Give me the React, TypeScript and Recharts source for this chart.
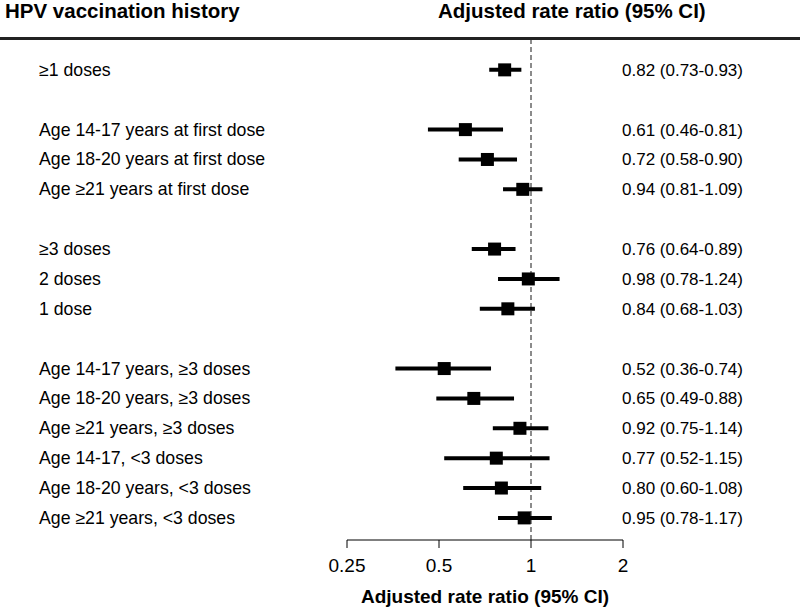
import { ScatterChart, Scatter, XAxis, YAxis, ErrorBar, ReferenceLine, Label } from 'recharts';

// row labels (top to bottom), blank rows separate the groups
const labels = [
  '≥1 doses',
  'Age 14-17 years at first dose',
  'Age 18-20 years at first dose',
  'Age ≥21 years at first dose',
  '≥3 doses',
  '2 doses',
  '1 dose',
  'Age 14-17 years, ≥3 doses',
  'Age 18-20 years, ≥3 doses',
  'Age ≥21 years, ≥3 doses',
  'Age 14-17, <3 doses',
  'Age 18-20 years, <3 doses',
  'Age ≥21 years, <3 doses',
];
const rows = [0, 2, 3, 4, 6, 7, 8, 10, 11, 12, 13, 14, 15];
const rr = [0.82, 0.61, 0.72, 0.94, 0.76, 0.98, 0.84, 0.52, 0.65, 0.92, 0.77, 0.8, 0.95];
const lower = [0.73, 0.46, 0.58, 0.81, 0.64, 0.78, 0.68, 0.36, 0.49, 0.75, 0.52, 0.6, 0.78];
const upper = [0.93, 0.81, 0.9, 1.09, 0.89, 1.24, 1.03, 0.74, 0.88, 1.14, 1.15, 1.08, 1.17];
const xTicks = [0.25, 0.5, 1, 2];

const FONT = 'Arial, "Liberation Sans", sans-serif';

const data = labels.map((name, i) => ({
  name,
  row: rows[i],
  rr: rr[i],
  err: [rr[i] - lower[i], upper[i] - rr[i]],
  ci: `${rr[i].toFixed(2)} (${lower[i].toFixed(2)}-${upper[i].toFixed(2)})`,
}));

const labelFor = (v: number) => data.find((d) => d.row === v);

// one tick draws both the row name (left) and the estimate text (right)
const RowTick = (props: any) => {
  const d = labelFor(props.payload.value);
  if (!d) return null;
  return (
    <g>
      <text x={39} y={props.y} dy={6} textAnchor="start" fontSize={17.7} fontFamily={FONT} fill="#000">
        {d.name}
      </text>
      <text x={622} y={props.y} dy={6} textAnchor="start" fontSize={17} fontFamily={FONT} fill="#000">
        {d.ci}
      </text>
    </g>
  );
};

const Box = (props: any) => {
  const s = 13;
  return <rect x={props.cx - s / 2} y={props.cy - s / 2} width={s} height={s} fill="#000" />;
};

export default function App() {
  return (
    <div style={{ position: 'absolute', left: 0, top: 0, width: 800, height: 608, background: '#fff', fontFamily: FONT }}>
      <div style={{ position: 'absolute', left: 5, top: 0, fontSize: 20.5, lineHeight: '22px', fontWeight: 'bold', whiteSpace: 'nowrap' }}>HPV vaccination history</div>
      <div style={{ position: 'absolute', left: 438, top: 0, fontSize: 20.5, lineHeight: '22px', fontWeight: 'bold', whiteSpace: 'nowrap' }}>Adjusted rate ratio (95% CI)</div>
      <div style={{ position: 'absolute', left: 0, top: 37, width: 800, height: 2.5, background: '#222' }} />
      <ScatterChart width={800} height={608} margin={{ top: 40, right: 177, bottom: 0, left: 0 }}>
        <XAxis
          type="number"
          dataKey="rr"
          scale="log"
          domain={[0.25, 2]}
          ticks={xTicks}
          allowDataOverflow
          height={68}
          tickLine={{ stroke: '#000' }}
          axisLine={{ stroke: '#000' }}
          tickSize={8}
          tick={{ fontSize: 19, fill: '#000', fontFamily: FONT, dy: 9 }}
          tickFormatter={(v: number) => String(v)}
        >
          <Label value="Adjusted rate ratio (95% CI)" position="insideBottom" offset={5} style={{ fontSize: 19, fontWeight: 'bold', fill: '#000', fontFamily: FONT }} />
        </XAxis>
        <YAxis
          type="number"
          dataKey="row"
          domain={[-1, 15.74]}
          reversed
          ticks={rows}
          width={347}
          axisLine={false}
          tickLine={false}
          tick={<RowTick />}
        />
        <ReferenceLine x={1} stroke="#666" strokeDasharray="5 3" strokeWidth={1.5} />
        <Scatter data={data} dataKey="rr" shape={<Box />} isAnimationActive={false}>
          <ErrorBar dataKey="err" direction="x" width={0} stroke="#000" strokeWidth={4} isAnimationActive={false} />
        </Scatter>
      </ScatterChart>
    </div>
  );
}
